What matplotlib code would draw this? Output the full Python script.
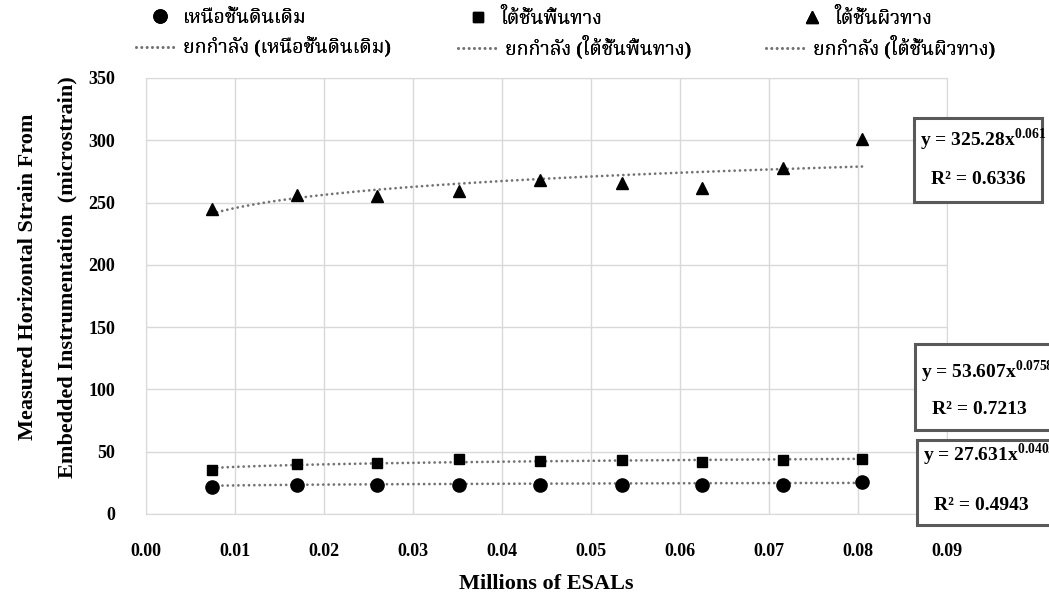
import matplotlib
matplotlib.use("Agg")
import matplotlib.pyplot as plt
import numpy as np
from matplotlib.patches import Rectangle

# data
esals = [0.0074, 0.0170, 0.0260, 0.0352, 0.0443, 0.0535, 0.0625, 0.0716, 0.0805]
strain_subgrade = [21.5, 23.0, 23.5, 23.5, 23.5, 23.0, 23.0, 23.0, 25.5]
strain_base = [35.5, 40.0, 41.0, 44.5, 42.5, 43.0, 41.5, 43.0, 44.0]
strain_surface = [245, 256, 255, 259.5, 268.5, 265.5, 261.5, 277.5, 301]

series_names = ["เหนือชั้นดินเดิม", "ใต้ชั้นพื้นทาง", "ใต้ชั้นผิวทาง"]
trend_names = ["ยกกำลัง (เหนือชั้นดินเดิม)", "ยกกำลัง (ใต้ชั้นพื้นทาง)", "ยกกำลัง (ใต้ชั้นผิวทาง)"]
coef_a = [27.631, 53.607, 325.28]
coef_b = [0.0402, 0.0758, 0.061]
coef_a_txt = ["27.631", "53.607", "325.28"]
coef_b_txt = ["0.0402", "0.0758", "0.061"]
r2_txt = ["0.4943", "0.7213", "0.6336"]

plt.rcParams["font.family"] = ["Liberation Serif", "Noto Serif Thai", "DejaVu Sans"]
plt.rcParams["font.weight"] = "bold"
plt.rcParams["mathtext.fontset"] = "custom"
plt.rcParams["mathtext.rm"] = "Liberation Serif:bold"
plt.rcParams["mathtext.bf"] = "Liberation Serif:bold"

W, H = 1049, 598
fig = plt.figure(figsize=(W / 100, H / 100), dpi=100)
ax = fig.add_axes([146 / W, 1 - 514 / H, (947 - 146) / W, (514 - 78) / H])

markers = ["o", "s", "^"]
msizes = [9.5, 7.5, 8.5]
all_y = [strain_subgrade, strain_base, strain_surface]
pts = []
trends = []
for y, m, ms, a, b in zip(all_y, markers, msizes, coef_a, coef_b):
    p, = ax.plot(esals, y, ls="none", marker=m, ms=ms, color="black", zorder=3)
    xx = np.linspace(min(esals), max(esals), 200)
    t, = ax.plot(xx, a * xx ** b, ls=(0, (0.01, 1.9)), lw=2.0, color="#737373",
                 dash_capstyle="round", zorder=2)
    pts.append(p)
    trends.append(t)

ax.set_xlim(0, 0.09)
ax.set_ylim(0, 350)
ax.set_xticks(np.arange(0, 0.0901, 0.01))
ax.set_yticks(np.arange(0, 351, 50))
ax.set_xticklabels([f"{v:.2f}" for v in np.arange(0, 0.0901, 0.01)])
ax.grid(True, color="#d9d9d9", lw=1)
ax.set_axisbelow(True)
for s in ax.spines.values():
    s.set_color("#d9d9d9")
ax.tick_params(length=0, labelsize=13, pad=21)
ax.tick_params(axis="y", pad=22)
ax.set_xlabel("Millions of ESALs", fontsize=16, fontweight="bold", labelpad=10)
ax.set_ylabel("Measured Horizontal Strain From\nEmbedded Instrumentation  (microstrain)",
              fontsize=16, fontweight="bold", linespacing=2.25)
ax.yaxis.set_label_coords(-0.086, 0.544)

# legend, one entry per spot like the original (handle start x, text pad)
fs = 14
em = fs * 100 / 72
marker_x = [160, 478, 812]
marker_txt = [183, 500, 834]
trend_x = [136, 458, 766]
trend_txt = [183, 505, 813]
for i in range(3):
    x0 = marker_x[i] - em / 2
    lg = fig.legend([pts[i]], [series_names[i]], loc="center left",
                    bbox_to_anchor=(x0 / W, 1 - 18 / H),
                    frameon=False, fontsize=fs, handlelength=1.0,
                    handletextpad=(marker_txt[i] - x0 - em) / em,
                    borderpad=0, borderaxespad=0)
    fig.add_artist(lg)
    lg = fig.legend([trends[i]], [trend_names[i]], loc="center left",
                    bbox_to_anchor=(trend_x[i] / W, 1 - 47 / H),
                    frameon=False, fontsize=fs, handlelength=42 / em,
                    handletextpad=(trend_txt[i] - trend_x[i] - 42) / em,
                    borderpad=0, borderaxespad=0)
    fig.add_artist(lg)

# equation boxes: x, y top, width, height, equation line y, R² line y
boxes = [(917, 440, 140, 85, 455, 505),
         (915, 344, 140, 86, 372, 410),
         (914, 118, 128, 84, 140, 180)]
for i, (bx, by, bw, bh, ey, ry) in enumerate(boxes):
    fig.add_artist(Rectangle((bx / W, 1 - (by + bh) / H), bw / W, bh / H,
                             transform=fig.transFigure, fc="white", ec="#595959", lw=2.2,
                             zorder=5))
    fig.text((bx + 6) / W, 1 - ey / H,
             f"y = {coef_a_txt[i]}x$^{{\\mathbf{{{coef_b_txt[i]}}}}}$",
             fontsize=14, va="center", ha="left", zorder=6)
    fig.text((bx + 64) / W, 1 - ry / H, f"R² = {r2_txt[i]}",
             fontsize=14, va="center", ha="center", zorder=6)

fig.savefig("out.png", dpi=100)
